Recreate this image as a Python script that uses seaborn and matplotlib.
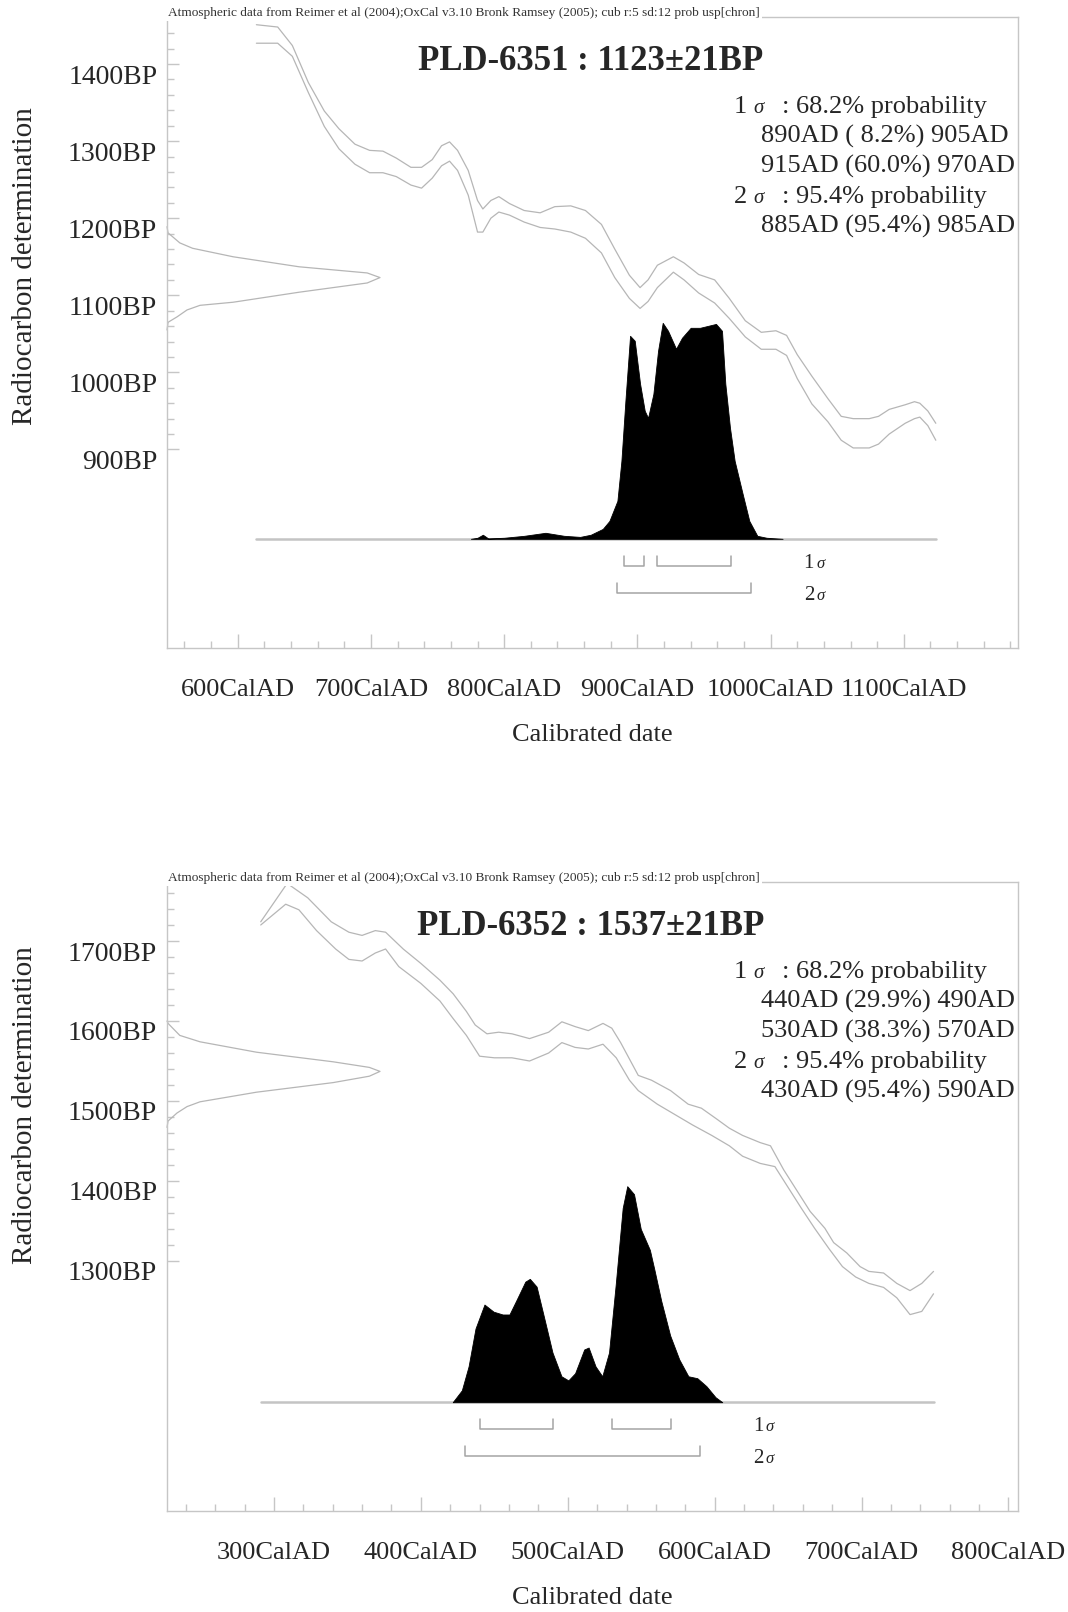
import numpy as np
import matplotlib
matplotlib.use("Agg")
import matplotlib.pyplot as plt
from matplotlib.ticker import FixedLocator
from matplotlib.transforms import ScaledTranslation
import seaborn as sns

sns.set_theme(style="white")
plt.rcParams["font.family"] = ["Liberation Serif", "DejaVu Serif"]

# ---------------------------------------------------------------- data
CAPTION = ("Atmospheric data from Reimer et al (2004);OxCal v3.10 Bronk Ramsey (2005); "
           "cub r:5 sd:12 prob usp[chron]")

# PLD-6351
a_title = "PLD-6351 : 1123±21BP"
a_mean = 1123
a_stats = [("1", "68.2% probability"), (None, "890AD ( 8.2%) 905AD"),
           (None, "915AD (60.0%) 970AD"), ("2", "95.4% probability"),
           (None, "885AD (95.4%) 985AD")]
a_sigma1 = [(890, 905), (915, 970)]
a_sigma2 = [(885, 985)]
a_xticks = [600, 700, 800, 900, 1000, 1100]
a_xticklabels = ["600CalAD", "700CalAD", "800CalAD", "900CalAD", "1000CalAD", "1100CalAD"]
a_yticks = [900, 1000, 1100, 1200, 1300, 1400]
a_yticklabels = ["900BP", "1000BP", "1100BP", "1200BP", "1300BP", "1400BP"]
a_curve_year = [614, 630, 641, 653, 665, 676, 688, 699, 709, 719,
                730, 738, 746, 753, 759, 765, 773, 780, 784, 790,
                796, 804, 815, 827, 838, 850, 861, 873, 883, 894,
                902, 908, 915, 927, 935, 946, 958, 969, 981, 993,
                1004, 1012, 1020, 1031, 1043, 1053, 1062, 1074, 1081, 1089,
                1101, 1108, 1112, 1118, 1124]
a_curve_hi = [1451, 1448, 1424, 1376, 1339, 1316, 1296, 1288, 1287, 1278,
              1266, 1266, 1276, 1294, 1299, 1288, 1262, 1223, 1212, 1223,
              1228, 1219, 1210, 1207, 1215, 1216, 1210, 1192, 1160, 1126,
              1110, 1120, 1139, 1150, 1142, 1127, 1120, 1096, 1067, 1052,
              1054, 1048, 1023, 995, 966, 943, 940, 940, 943, 952,
              958, 962, 960, 950, 934]
a_curve_lo = [1427, 1427, 1410, 1363, 1319, 1290, 1270, 1259, 1259, 1254,
              1243, 1239, 1252, 1268, 1274, 1262, 1230, 1182, 1182, 1200,
              1208, 1204, 1195, 1188, 1186, 1182, 1174, 1155, 1123, 1096,
              1083, 1092, 1110, 1130, 1120, 1103, 1090, 1070, 1046, 1030,
              1030, 1022, 992, 959, 936, 912, 902, 902, 907, 920,
              934, 940, 942, 931, 912]
a_prob_year = [775, 780, 784, 788, 800, 815, 831, 845, 857, 865,
               874, 879, 885, 888, 891, 894.5, 898, 902, 905.5, 908,
               912, 915.5, 919, 923, 929, 933.5, 940, 947, 953, 959,
               963.5, 966, 969.5, 973, 979, 984, 990, 997, 1009]
a_prob = [0, .005, .019, .002, .005, .014, .028, .014, .009, .019,
          .046, .083, .176, .361, .639, .94, .917, .718, .593, .560,
          .671, .870, 1.0, .963, .880, .931, .977, .977, .986, .995,
          .963, .718, .514, .361, .208, .083, .014, .005, 0]
a_c14_offset = [66, 58, 45, 38, 27, 14, 6, 0, -7, -19, -32, -36, -42, -51, -58, -68]
a_c14_dens = [0, .005, .06, .12, .31, .62, .94, 1.0, .94, .62, .31, .155, .094, .047, .005, 0]

# PLD-6352
b_title = "PLD-6352 : 1537±21BP"
b_mean = 1537
b_stats = [("1", "68.2% probability"), (None, "440AD (29.9%) 490AD"),
           (None, "530AD (38.3%) 570AD"), ("2", "95.4% probability"),
           (None, "430AD (95.4%) 590AD")]
b_sigma1 = [(440, 490), (530, 570)]
b_sigma2 = [(430, 590)]
b_xticks = [300, 400, 500, 600, 700, 800]
b_xticklabels = ["300CalAD", "400CalAD", "500CalAD", "600CalAD", "700CalAD", "800CalAD"]
b_yticks = [1300, 1400, 1500, 1600, 1700]
b_yticklabels = ["1300BP", "1400BP", "1500BP", "1600BP", "1700BP"]
b_hi_year = [291, 309, 323, 339, 351, 360, 369, 376, 388, 400,
             413, 422, 431, 437, 445, 453, 462, 474, 487, 496,
             505, 514, 524, 530, 536, 548, 557, 570, 582, 591,
             601, 610, 619, 631, 638, 647, 656, 665, 675, 681,
             690, 699, 705, 715, 724, 733, 741, 749]
b_hi = [1724, 1772, 1754, 1724, 1711, 1707, 1713, 1711, 1690, 1672,
        1651, 1634, 1612, 1595, 1584, 1586, 1584, 1578, 1586, 1599,
        1593, 1588, 1597, 1591, 1573, 1532, 1526, 1513, 1496, 1491,
        1478, 1466, 1457, 1448, 1444, 1414, 1388, 1362, 1341, 1323,
        1310, 1293, 1287, 1285, 1272, 1263, 1272, 1287]
b_lo_year = [291, 308, 317, 329, 342, 351, 360, 369, 376, 385,
             400, 413, 422, 431, 440, 450, 462, 474, 487, 496,
             505, 514, 524, 533, 542, 548, 561, 573, 585, 598,
             610, 619, 631, 641, 650, 659, 668, 678, 687, 696,
             705, 715, 724, 733, 741, 749]
b_lo = [1720, 1746, 1739, 1713, 1690, 1677, 1675, 1685, 1690, 1668,
        1647, 1625, 1603, 1582, 1556, 1554, 1554, 1550, 1560, 1573,
        1567, 1565, 1571, 1554, 1526, 1513, 1496, 1483, 1470, 1457,
        1444, 1431, 1422, 1418, 1392, 1366, 1341, 1315, 1293, 1280,
        1272, 1267, 1254, 1233, 1237, 1259]
b_prob_year = [421.7, 427.9, 432.5, 437.2, 443.3, 449.5, 455.7, 460.3, 464.9, 471.1,
               474.2, 478.8, 483.4, 489.6, 495.7, 500.4, 505, 511.2, 514.2, 518.9,
               523.5, 528.1, 532.7, 537.4, 540.5, 545.1, 549.7, 555.9, 559, 563.6,
               569.7, 575.9, 582.1, 588.2, 594.4, 600.6, 605.2]
b_prob = [0, .055, .166, .341, .452, .419, .406, .406, .470, .558,
          .571, .535, .406, .230, .120, .101, .134, .244, .253, .166,
          .120, .230, .548, .899, 1.0, .963, .802, .705, .613, .470,
          .309, .198, .120, .111, .074, .023, 0]
b_c14_offset = [63, 60, 45, 37, 24, 12, 5, 0, -6, -14, -26, -38, -44, -52, -62, -70]
b_c14_dens = [0, .005, .06, .155, .42, .78, .95, 1.0, .95, .78, .42, .155, .094, .047, .005, 0]

# ---------------------------------------------------------------- layout
W, H = 1068, 1612
fig = plt.figure(figsize=(W / 100, H / 100), dpi=100)

GRID = "#c6c6c6"
CURVE = "#b6b6b6"
BRACKET = "#a4a4a4"


def fx(px):
    return px / W


def fy(py):
    return 1 - py / H


def draw_panel(box, xlim, ylim, title, mean, stats, s1, s2, xt, xtl, yt, ytl,
               hi_x, hi_y, lo_x, lo_y, px_, p_, c_off, c_dens, label_y):
    l, t, r, b = box
    ax = fig.add_axes([fx(l), fy(b), fx(r - l), (b - t) / H])
    ax.set_xlim(*xlim)
    ax.set_ylim(*ylim)
    upx = (xlim[1] - xlim[0]) / (r - l)   # data units per pixel
    upy = (ylim[1] - ylim[0]) / (b - t)

    # calibration curve envelope
    sns.lineplot(x=hi_x, y=hi_y, ax=ax, color=CURVE, lw=0.9, estimator=None)
    sns.lineplot(x=lo_x, y=lo_y, ax=ax, color=CURVE, lw=0.9, estimator=None)

    # radiocarbon measurement on the y axis
    cy = mean + np.asarray(c_off, float)
    cx = xlim[0] + np.asarray(c_dens) * 213 * upx
    ax.plot(cx, cy, color=CURVE, lw=0.9, clip_on=False)

    # calibrated probability distribution
    base = ylim[0] + (b - (t + (b - t) * 0.827)) * upy
    x0, x1 = min(hi_x[0], lo_x[0]), max(hi_x[-1], lo_x[-1])
    ax.plot([x0, x1], [base, base], color="#c4c4c4", lw=1.8, zorder=2)
    py = base + np.asarray(p_) * 216 * upy
    ax.fill_between(px_, base, py, color="black", lw=0.6, zorder=3)

    # sigma range brackets
    for ranges, dpx in ((s1, 27), (s2, 54)):
        yl = base - dpx * upy
        for a, c in ranges:
            ax.plot([a, a, c, c], [yl + 10 * upy, yl, yl, yl + 10 * upy],
                    color=BRACKET, lw=1.1)
    lx = s2[-1][1] + 53 * upx
    for lab, dpx in (("1", 29), ("2", 61)):
        yl = base - dpx * upy
        ax.text(lx, yl, lab, fontsize=15, va="baseline", ha="left")
        ax.text(lx + 13 * upx, yl, "σ", fontsize=12, va="baseline", ha="left",
                style="italic")

    # axes frame and ticks
    for s in ax.spines.values():
        s.set_color(GRID)
        s.set_linewidth(1.0)
    ax.set_xticks(xt)
    ax.set_xticklabels(xtl)
    ax.xaxis.set_minor_locator(FixedLocator(np.arange(np.ceil(xlim[0] / 20) * 20, xlim[1], 20)))
    ax.set_yticks(yt)
    ax.set_yticklabels(ytl)
    ax.yaxis.set_minor_locator(FixedLocator(np.arange(yt[0], ylim[1], 20)))
    ax.tick_params(axis="x", which="both", direction="in", bottom=True, color=GRID,
                   width=1.0, labelsize=19, pad=22)
    ax.tick_params(axis="x", which="major", length=10)
    ax.tick_params(axis="x", which="minor", length=5)
    ax.tick_params(axis="y", which="both", direction="in", left=True, color=GRID,
                   width=1.0, labelsize=20, pad=7)
    ax.tick_params(axis="y", which="major", length=8.5)
    ax.tick_params(axis="y", which="minor", length=5)
    shift = ScaledTranslation(0, -10 / 100, fig.dpi_scale_trans)
    for lab in ax.get_yticklabels():
        lab.set_transform(lab.get_transform() + shift)
    ax.set_xlabel("Calibrated date", fontsize=19, labelpad=17)
    ax.set_ylabel("Radiocarbon determination", fontsize=21)
    ax.yaxis.set_label_coords(-0.151, label_y)

    # caption, title and calibrated ranges
    fig.text(fx(168), fy(t - 1), CAPTION, fontsize=9.6, color="#333333", va="baseline",
             ha="left", bbox=dict(facecolor="white", edgecolor="none", pad=1.5))
    fig.text(fx(591), fy(t + 53), title, fontsize=25, fontweight="bold",
             ha="center", va="baseline")
    for i, (lev, txt) in enumerate(stats):
        yb = fy(t + 96 + 30 * i)
        if lev is None:
            fig.text(fx(761), yb, txt, fontsize=19, va="baseline")
        else:
            fig.text(fx(734), yb, lev, fontsize=19, va="baseline")
            fig.text(fx(753), yb, "σ", fontsize=15, va="baseline", style="italic")
            fig.text(fx(782), yb, ": " + txt, fontsize=19, va="baseline")
    return ax


draw_panel((167, 17, 1018, 648), (546.9, 1185.7), (642.5, 1461.0),
           a_title, a_mean, a_stats, a_sigma1, a_sigma2,
           a_xticks, a_xticklabels, a_yticks, a_yticklabels,
           a_curve_year, a_curve_hi, a_curve_year, a_curve_lo,
           a_prob_year, a_prob, a_c14_offset, a_c14_dens, 0.6046)

draw_panel((167, 882, 1018, 1511), (227.2, 806.5), (987.5, 1773.75),
           b_title, b_mean, b_stats, b_sigma1, b_sigma2,
           b_xticks, b_xticklabels, b_yticks, b_yticklabels,
           b_hi_year, b_hi, b_lo_year, b_lo,
           b_prob_year, b_prob, b_c14_offset, b_c14_dens, 0.6455)

fig.savefig("out.png", dpi=100, facecolor="white")
